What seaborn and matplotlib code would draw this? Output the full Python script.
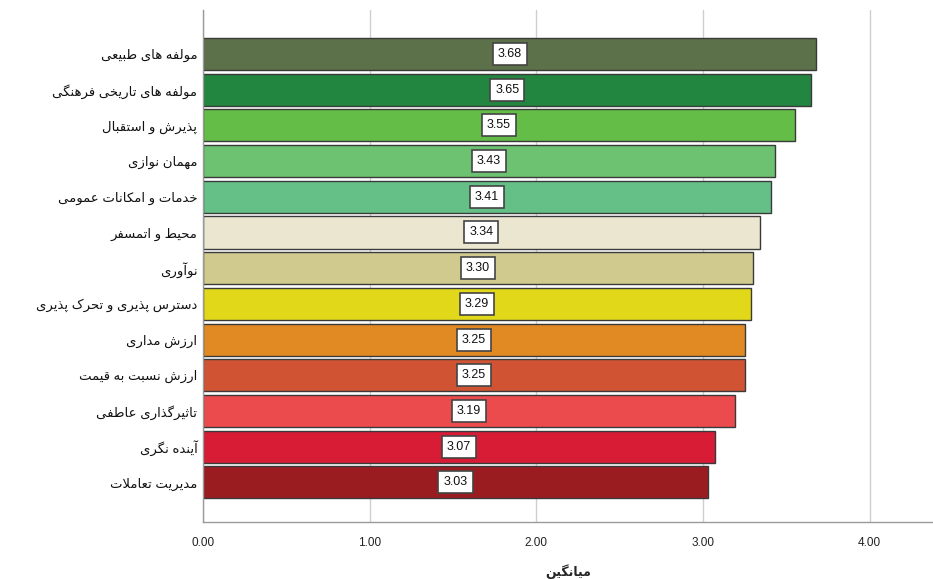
import matplotlib
matplotlib.use("Agg")
import matplotlib.pyplot as plt
import seaborn as sns
import pandas as pd

labels = [
    "مولفه های طبیعی",
    "مولفه های تاریخی فرهنگی",
    "پذیرش و استقبال",
    "مهمان نوازی",
    "خدمات و امکانات عمومی",
    "محیط و اتمسفر",
    "نوآوری",
    "دسترس پذیری و تحرک پذیری",
    "ارزش مداری",
    "ارزش نسبت به قیمت",
    "تاثیرگذاری عاطفی",
    "آینده نگری",
    "مدیریت تعاملات",
]
values = [3.68, 3.65, 3.55, 3.43, 3.41, 3.34, 3.30, 3.29, 3.25, 3.25, 3.19, 3.07, 3.03]
colors = ["#5c704a", "#228540", "#64bd47", "#6dc271", "#64c087", "#ebe6d0", "#d0ca8e",
          "#e2d81a", "#e18a24", "#d05333", "#ec4b4d", "#d81c36", "#9a1c20"]
x_ticks = [0, 1, 2, 3, 4]
x_label = "میانگین"

# Persian shaping (isolated, final, initial, medial); matplotlib has no complex text layout
FORMS = {
    "\u0627": ("\ufe8d", "\ufe8e", None, None),
    "\u0622": ("\ufe81", "\ufe82", None, None),
    "\u0628": ("\ufe8f", "\ufe90", "\ufe91", "\ufe92"),
    "\u067e": ("\ufb56", "\ufb57", "\ufb58", "\ufb59"),
    "\u062a": ("\ufe95", "\ufe96", "\ufe97", "\ufe98"),
    "\u062b": ("\ufe99", "\ufe9a", "\ufe9b", "\ufe9c"),
    "\u062c": ("\ufe9d", "\ufe9e", "\ufe9f", "\ufea0"),
    "\u0686": ("\ufb7a", "\ufb7b", "\ufb7c", "\ufb7d"),
    "\u062d": ("\ufea1", "\ufea2", "\ufea3", "\ufea4"),
    "\u062e": ("\ufea5", "\ufea6", "\ufea7", "\ufea8"),
    "\u062f": ("\ufea9", "\ufeaa", None, None),
    "\u0630": ("\ufeab", "\ufeac", None, None),
    "\u0631": ("\ufead", "\ufeae", None, None),
    "\u0632": ("\ufeaf", "\ufeb0", None, None),
    "\u0698": ("\ufb8a", "\ufb8b", None, None),
    "\u0633": ("\ufeb1", "\ufeb2", "\ufeb3", "\ufeb4"),
    "\u0634": ("\ufeb5", "\ufeb6", "\ufeb7", "\ufeb8"),
    "\u0635": ("\ufeb9", "\ufeba", "\ufebb", "\ufebc"),
    "\u0636": ("\ufebd", "\ufebe", "\ufebf", "\ufec0"),
    "\u0637": ("\ufec1", "\ufec2", "\ufec3", "\ufec4"),
    "\u0638": ("\ufec5", "\ufec6", "\ufec7", "\ufec8"),
    "\u0639": ("\ufec9", "\ufeca", "\ufecb", "\ufecc"),
    "\u063a": ("\ufecd", "\ufece", "\ufecf", "\ufed0"),
    "\u0641": ("\ufed1", "\ufed2", "\ufed3", "\ufed4"),
    "\u0642": ("\ufed5", "\ufed6", "\ufed7", "\ufed8"),
    "\u06a9": ("\ufb8e", "\ufb8f", "\ufb90", "\ufb91"),
    "\u06af": ("\ufb92", "\ufb93", "\ufb94", "\ufb95"),
    "\u0644": ("\ufedd", "\ufede", "\ufedf", "\ufee0"),
    "\u0645": ("\ufee1", "\ufee2", "\ufee3", "\ufee4"),
    "\u0646": ("\ufee5", "\ufee6", "\ufee7", "\ufee8"),
    "\u0648": ("\ufeed", "\ufeee", None, None),
    "\u0647": ("\ufee9", "\ufeea", "\ufeeb", "\ufeec"),
    "\u06cc": ("\ufbfc", "\ufbfd", "\ufbfe", "\ufbff"),
    "\u0626": ("\ufe89", "\ufe8a", "\ufe8b", "\ufe8c"),
}
LAM_ALEF = {"\u0627": ("\ufefb", "\ufefc"), "\u0622": ("\ufef5", "\ufef6")}


def shape(s):
    out = []
    i = 0
    while i < len(s):
        c = s[i]
        if c not in FORMS:
            out.append(c)
            i += 1
            continue
        prev = s[i - 1] if i > 0 else None
        joins_prev = prev in FORMS and FORMS[prev][2] is not None
        if c == "\u0644" and i + 1 < len(s) and s[i + 1] in LAM_ALEF:
            out.append(LAM_ALEF[s[i + 1]][1 if joins_prev else 0])
            i += 2
            continue
        nxt = s[i + 1] if i + 1 < len(s) else None
        iso, fin, ini, med = FORMS[c]
        joins_next = ini is not None and nxt in FORMS
        if joins_prev and joins_next:
            out.append(med)
        elif joins_prev:
            out.append(fin)
        elif joins_next:
            out.append(ini)
        else:
            out.append(iso)
        i += 1
    return "".join(reversed(out))


sns.set_style("white")
plt.rcParams["font.family"] = ["Liberation Sans", "DejaVu Sans"]

df = pd.DataFrame({"name": [shape(l) for l in labels], "mean": values})

fig = plt.figure(figsize=(9.33, 5.79), dpi=100)
ax = fig.add_axes([0.2176, 0.0984, 0.7824, 0.8843])

sns.barplot(data=df, x="mean", y="name", hue="name", palette=colors, legend=False,
            orient="h", width=0.9, saturation=1, edgecolor="#3a3a3a", linewidth=1.0,
            ax=ax, zorder=2)

for cont in ax.containers:
    ax.bar_label(cont, fmt="%.2f", label_type="center", fontsize=9, color="#111111",
                 bbox=dict(boxstyle="square,pad=0.4", facecolor="white",
                           edgecolor="#444444", linewidth=1.2))

ax.set_xlim(0, 4.38)
ax.set_ylim(12 + 1.11, -1.23)
ax.set_xticks(x_ticks)
ax.set_xticklabels([f"{t:.2f}" for t in x_ticks])
ax.xaxis.grid(True, color="#cfcfcf", linewidth=1.0, zorder=0)
ax.set_axisbelow(True)
ax.tick_params(axis="x", length=0, pad=11, labelsize=8.5, colors="#222222")
ax.tick_params(axis="y", length=0, pad=4, labelsize=9.5, colors="#111111")
ax.set_ylabel("")
ax.set_xlabel(shape(x_label), fontsize=9, fontweight="bold", labelpad=11)

for side in ["top", "right"]:
    ax.spines[side].set_visible(False)
for side in ["left", "bottom"]:
    ax.spines[side].set_color("#9a9a9a")
    ax.spines[side].set_linewidth(1.0)

fig.savefig("out.png", dpi=100)
